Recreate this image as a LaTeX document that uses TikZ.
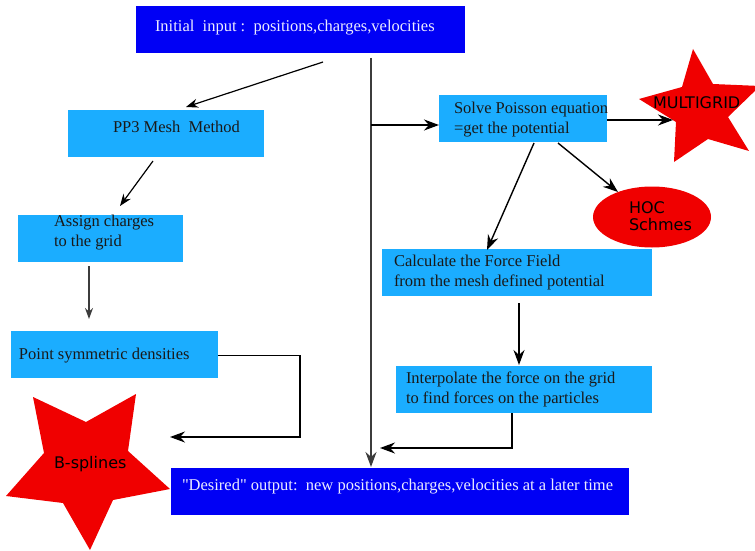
\documentclass[tikz,border=0pt]{standalone}
\usepackage{fontspec}
\setmainfont{Liberation Serif}
\newfontfamily\starfont{DejaVu Sans}
\usetikzlibrary{arrows.meta,shapes.geometric}
\definecolor{lblue}{RGB}{27,173,255}
\definecolor{dblue}{RGB}{0,0,245}
\definecolor{sred}{RGB}{240,0,0}
\definecolor{lgray}{RGB}{60,60,60}
\begin{document}
\begin{tikzpicture}[x=1pt,y=-1pt,
  box/.style={inner sep=0pt,outer sep=0pt,anchor=north west},
  lbox/.style={box,fill=lblue},
  dbox/.style={box,fill=dblue},
  txt/.style={inner sep=0pt,outer sep=0pt,anchor=base west,font=\fontsize{16.5}{20}\selectfont,text=black!90},
  wtxt/.style={txt,text=white!92!blue},
  stxt/.style={inner sep=0pt,outer sep=0pt,anchor=base west,font=\starfont\fontsize{16}{19}\selectfont,text=black},
  arr/.style={line width=1.4pt,draw=black,-{Stealth[length=15pt,width=11pt]}},
  sarr/.style={line width=1.2pt,draw=black,-{Stealth[length=12pt,width=9pt]}},
  garr/.style={line width=1.2pt,draw=lgray,-{Stealth[length=11pt,width=8pt]}}
]
\useasboundingbox (0,0) rectangle (755,551);
% boxes
\node[dbox,minimum width=329pt,minimum height=47pt] (top) at (136,6) {};
\node[lbox,minimum width=196pt,minimum height=47pt] (pp3) at (68,110) {};
\node[lbox,minimum width=165pt,minimum height=47pt] (assign) at (18,215) {};
\node[lbox,minimum width=207pt,minimum height=47pt] (point) at (11,331) {};
\node[lbox,minimum width=168pt,minimum height=47pt] (poisson) at (439,95) {};
\node[lbox,minimum width=270pt,minimum height=47pt] (calc) at (382,249) {};
\node[lbox,minimum width=256pt,minimum height=47pt] (interp) at (396,366) {};
\node[dbox,minimum width=458pt,minimum height=47pt] (out) at (171,468) {};
% stars and ellipse
\fill[sred] (693,49) -- (713,84) -- (760,86) -- (728,117) -- (749,151) -- (708,139) -- (674,162) -- (676,122) -- (639,99) -- (682,87) -- cycle;
\fill[sred] (33,397) -- (86,422) -- (136,394) -- (128,451) -- (170,489) -- (113,500) -- (90,550) -- (63,503) -- (6,496) -- (44,453) -- cycle;
\node[ellipse,fill=sred,minimum width=118pt,minimum height=61pt,inner sep=0pt] (hoc) at (652,217) {};
% texts
\node[wtxt] (ttop) at (155,32) {Initial\ \ input :\ \ positions,charges,velocities};
\node[txt] (tpp3) at (113,132) {PP3 Mesh\ \ Method};
\node[txt] (tas1) at (54,226) {Assign charges};
\node[txt] (tas2) at (54,246) {to the grid};
\node[txt] (tpt) at (19,359) {Point symmetric densities};
\node[txt] (tpo1) at (454,113) {Solve Poisson equation};
\node[txt] (tpo2) at (454,133) {=get the potential};
\node[txt] (tca1) at (394,266) {Calculate the Force Field};
\node[txt] (tca2) at (394,286) {from the mesh defined potential};
\node[txt] (tin1) at (406,383) {Interpolate the force on the grid};
\node[txt] (tin2) at (406,403) {to find forces on the particles};
\node[wtxt] (tout) at (182,490) {\textquotedbl Desired\textquotedbl\ output:\ \ new positions,charges,velocities at a later time};
\node[stxt] (tmg) at (653,108) {MULTIGRID};
\node[stxt] (thoc1) at (629,213) {HOC};
\node[stxt] (thoc2) at (629,230) {Schmes};
\node[stxt] (tbs) at (54,468) {B-splines};
% connector end points
\coordinate (a1s) at (323,62);
\coordinate (a1e) at (186,107);
\coordinate (a2s) at (153,161);
\coordinate (a2e) at (120,206);
\coordinate (a3s) at (89,266);
\coordinate (a3e) at (89,319);
\coordinate (a4e) at (170,437);
\coordinate (vs) at (371,58);
\coordinate (ve) at (371,467);
\coordinate (hs) at (371,125);
\coordinate (mge) at (673,120);
\coordinate (c1s) at (534,143);
\coordinate (c1e) at (487,250);
\coordinate (c2s) at (558,143);
\coordinate (c2e) at (618,192);
\coordinate (c3s) at (519,303);
\coordinate (c3e) at (519,365);
\coordinate (c4e) at (380,448);
% connectors
\draw[sarr] (a1s) -- (a1e);
\draw[sarr] (a2s) -- (a2e);
\draw[garr] (a3s) -- (a3e);
\draw[arr] (point.east |- tpt.mid) ++(0,-1) -| (300,437) -- (a4e);
\draw[arr,draw=lgray,line width=1.8pt] (vs) -- (ve);
\draw[arr] (hs) -- (poisson.west |- hs);
\draw[arr] (poisson.east |- mge) -- (mge);
\draw[arr] (c1s) -- (c1e);
\draw[arr] (c2s) -- (c2e);
\draw[arr] (c3s) -- (c3e);
\draw[arr] (interp.south -| 512,0) -- (512,448) -- (c4e);
\end{tikzpicture}
\end{document}
